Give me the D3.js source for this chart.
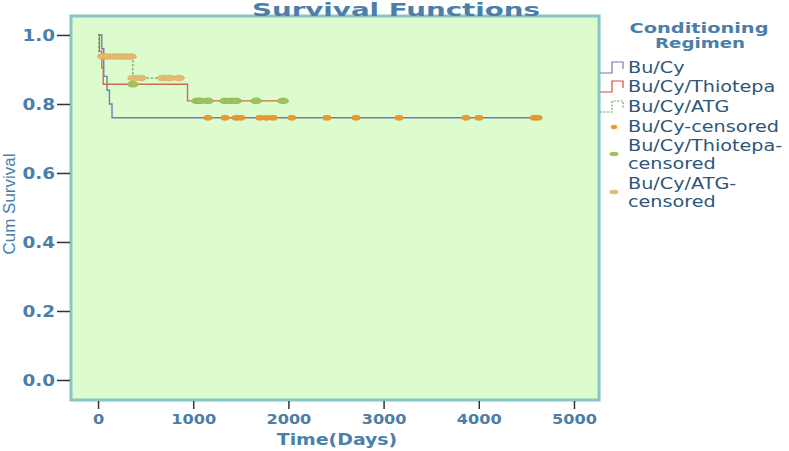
<!DOCTYPE html>
<html><head><meta charset="utf-8">
<script src="https://cdn.jsdelivr.net/npm/d3@7"></script>
<style>body{margin:0;background:#fff}svg{display:block}</style>
</head><body>
<svg id="c" width="789" height="451"></svg>
<script>
// ---- data ----
const groups = ["Bu/Cy", "Bu/Cy/Thiotepa", "Bu/Cy/ATG"];
const buCyTime = [0, 40, 60, 95, 120, 147, 4622];
const buCySurv = [1.0, 0.96, 0.88, 0.84, 0.80, 0.76, 0.76];
const thioTime = [0, 15, 40, 55, 940, 1945];
const thioSurv = [1.0, 0.952, 0.905, 0.857, 0.809, 0.809];
const atgTime = [0, 10, 365, 850];
const atgSurv = [1.0, 0.9375, 0.875, 0.875];
const buCyCensored = [1155, 1334, 1450, 1500, 1700, 1770, 1840, 2035, 2405, 2710, 3162, 3866, 4002, 4580, 4622];
const thioCensored = [365, 1040, 1075, 1155, 1334, 1390, 1450, 1660, 1943];
const atgCensored = [50, 105, 175, 230, 290, 345, 370, 450, 680, 755, 850];
const xTicks = [0, 1000, 2000, 3000, 4000, 5000];
const yTicks = [0.0, 0.2, 0.4, 0.6, 0.8, 1.0];
const legendLabels = ["Bu/Cy", "Bu/Cy/Thiotepa", "Bu/Cy/ATG", "Bu/Cy-censored", "Bu/Cy/Thiotepa-|censored", "Bu/Cy/ATG-|censored"];

// ---- layout ----
const svg = d3.select("#c");
const L = 71, R = 599, T = 16, B = 400;
const x = d3.scaleLinear().domain([-284, 5263]).range([L, R]);
const y = d3.scaleLinear().domain([-0.058, 1.055]).range([B, T]);
const axisCol = "#4b7ea8";
const lineCols = ["#6f7fb5", "#cf6a52", "#5aa85a"];
const censCols = ["#ea9a2e", "#9cc45e", "#e3bc72"];
const censStroke = ["#e08a20", "#8fb04f", "#e0a85a"];

function stretch(sel, f) {
  sel.each(function () {
    const w = this.getComputedTextLength();
    d3.select(this).attr("textLength", w * f).attr("lengthAdjust", "spacingAndGlyphs");
  });
}

svg.append("rect").attr("x", L).attr("y", T).attr("width", R - L).attr("height", B - T)
  .attr("fill", "#dcfcce").attr("stroke", "#86c6c4").attr("stroke-width", 3);

// title
svg.append("text").attr("x", 396).attr("y", 16).attr("text-anchor", "middle")
  .attr("font-family", "DejaVu Sans").attr("font-weight", "bold").attr("font-size", 18)
  .attr("textLength", 288).attr("lengthAdjust", "spacingAndGlyphs")
  .attr("fill", axisCol).text("Survival Functions");

// axes
const yAxis = d3.axisLeft(y).tickValues(yTicks).tickFormat(d3.format(".1f")).tickSize(13).tickPadding(2);
const gy = svg.append("g").attr("transform", `translate(${L - 1},0)`).call(yAxis);
gy.select(".domain").remove();
gy.selectAll(".tick line").attr("stroke", "#333").attr("stroke-width", 1.5);
gy.selectAll(".tick text").attr("fill", axisCol).attr("font-family", "DejaVu Sans")
  .attr("font-weight", "bold").attr("font-size", 16);
stretch(gy.selectAll(".tick text"), 1.15);

const xAxis = d3.axisBottom(x).tickValues(xTicks).tickFormat(d3.format("d")).tickSize(8).tickPadding(5);
const gx = svg.append("g").attr("transform", `translate(0,${B + 1})`).call(xAxis);
gx.select(".domain").remove();
gx.selectAll(".tick line").attr("stroke", "#333").attr("stroke-width", 1.5);
gx.selectAll(".tick text").attr("fill", axisCol).attr("font-family", "DejaVu Sans")
  .attr("font-weight", "bold").attr("font-size", 14);
stretch(gx.selectAll(".tick text"), 1.15);

const xt = svg.append("text").attr("x", 337).attr("y", 445).attr("text-anchor", "middle")
  .attr("font-family", "DejaVu Sans").attr("font-weight", "bold").attr("font-size", 16)
  .attr("fill", axisCol).text("Time(Days)");
stretch(xt, 1.18);
svg.append("text").attr("transform", "translate(15,204) rotate(-90)").attr("text-anchor", "middle")
  .attr("font-family", "Liberation Sans").attr("font-size", 17)
  .attr("fill", axisCol).text("Cum Survival");

// curves
const series = [
  {t: buCyTime, s: buCySurv, c: buCyCensored},
  {t: thioTime, s: thioSurv, c: thioCensored},
  {t: atgTime, s: atgSurv, c: atgCensored}
];
const stepLine = d3.line().x(d => x(d[0])).y(d => y(d[1])).curve(d3.curveStepAfter);
function survAt(sr, t) {
  let v = sr.s[0];
  for (let i = 0; i < sr.t.length; i++) if (sr.t[i] <= t) v = sr.s[i];
  return v;
}
series.forEach((sr, i) => {
  svg.append("path").datum(sr.t.map((t, k) => [t, sr.s[k]]))
    .attr("d", stepLine).attr("fill", "none").attr("stroke", lineCols[i])
    .attr("stroke-width", 1.4).attr("stroke-dasharray", i === 2 ? "2,2" : null);
});
[2, 1, 0].forEach(i => {
  const sr = series[i];
  const rx = i === 0 ? 4.2 : 5.5, ry = i === 0 ? 2.4 : 2.8;
  svg.append("g").selectAll("ellipse").data(sr.c).join("ellipse")
    .attr("cx", d => x(d)).attr("cy", d => y(survAt(sr, d)))
    .attr("rx", rx).attr("ry", ry).attr("fill", censCols[i])
    .attr("stroke", censStroke[i]).attr("stroke-width", 0.8);
});

// legend
const lg = svg.append("g");
lg.append("text").attr("x", 699).attr("y", 33).attr("text-anchor", "middle")
  .attr("font-family", "DejaVu Sans").attr("font-weight", "bold").attr("font-size", 13.5)
  .attr("textLength", 139).attr("lengthAdjust", "spacingAndGlyphs")
  .attr("fill", axisCol).text("Conditioning");
lg.append("text").attr("x", 700).attr("y", 48).attr("text-anchor", "middle")
  .attr("font-family", "DejaVu Sans").attr("font-weight", "bold").attr("font-size", 13.5)
  .attr("textLength", 90).attr("lengthAdjust", "spacingAndGlyphs")
  .attr("fill", axisCol).text("Regimen");
const legCols = ["#7c72b8", "#d9483e", "#5aa85a"];
const rowY = [67, 86, 106, 126, 145, 183];
legendLabels.forEach((lab, i) => {
  const yy = rowY[i];
  if (i < 3) {
    const p = d3.path();
    p.moveTo(600, yy + 6); p.lineTo(612, yy + 6); p.lineTo(612, yy - 5); p.lineTo(623, yy - 5); p.lineTo(623, yy + 2);
    lg.append("path").attr("d", p.toString()).attr("fill", "none").attr("stroke", legCols[i])
      .attr("stroke-width", 1.2).attr("stroke-dasharray", i === 2 ? "2,1.5" : null);
  } else {
    const j = i - 3;
    const cy = j === 0 ? yy + 1 : yy + 9;
    lg.append("ellipse").attr("cx", 614).attr("cy", cy).attr("rx", j === 0 ? 3.2 : 4.5).attr("ry", 2.2)
      .attr("fill", censCols[j]);
  }
  lab.split("|").forEach((ln, k) => {
    const t = lg.append("text").attr("x", 628).attr("y", yy + 6 + k * 18)
      .attr("font-family", "DejaVu Sans").attr("font-size", 16)
      .attr("fill", "#2f5676").text(ln);
    stretch(t, 1.2);
  });
});
</script>
</body></html>
